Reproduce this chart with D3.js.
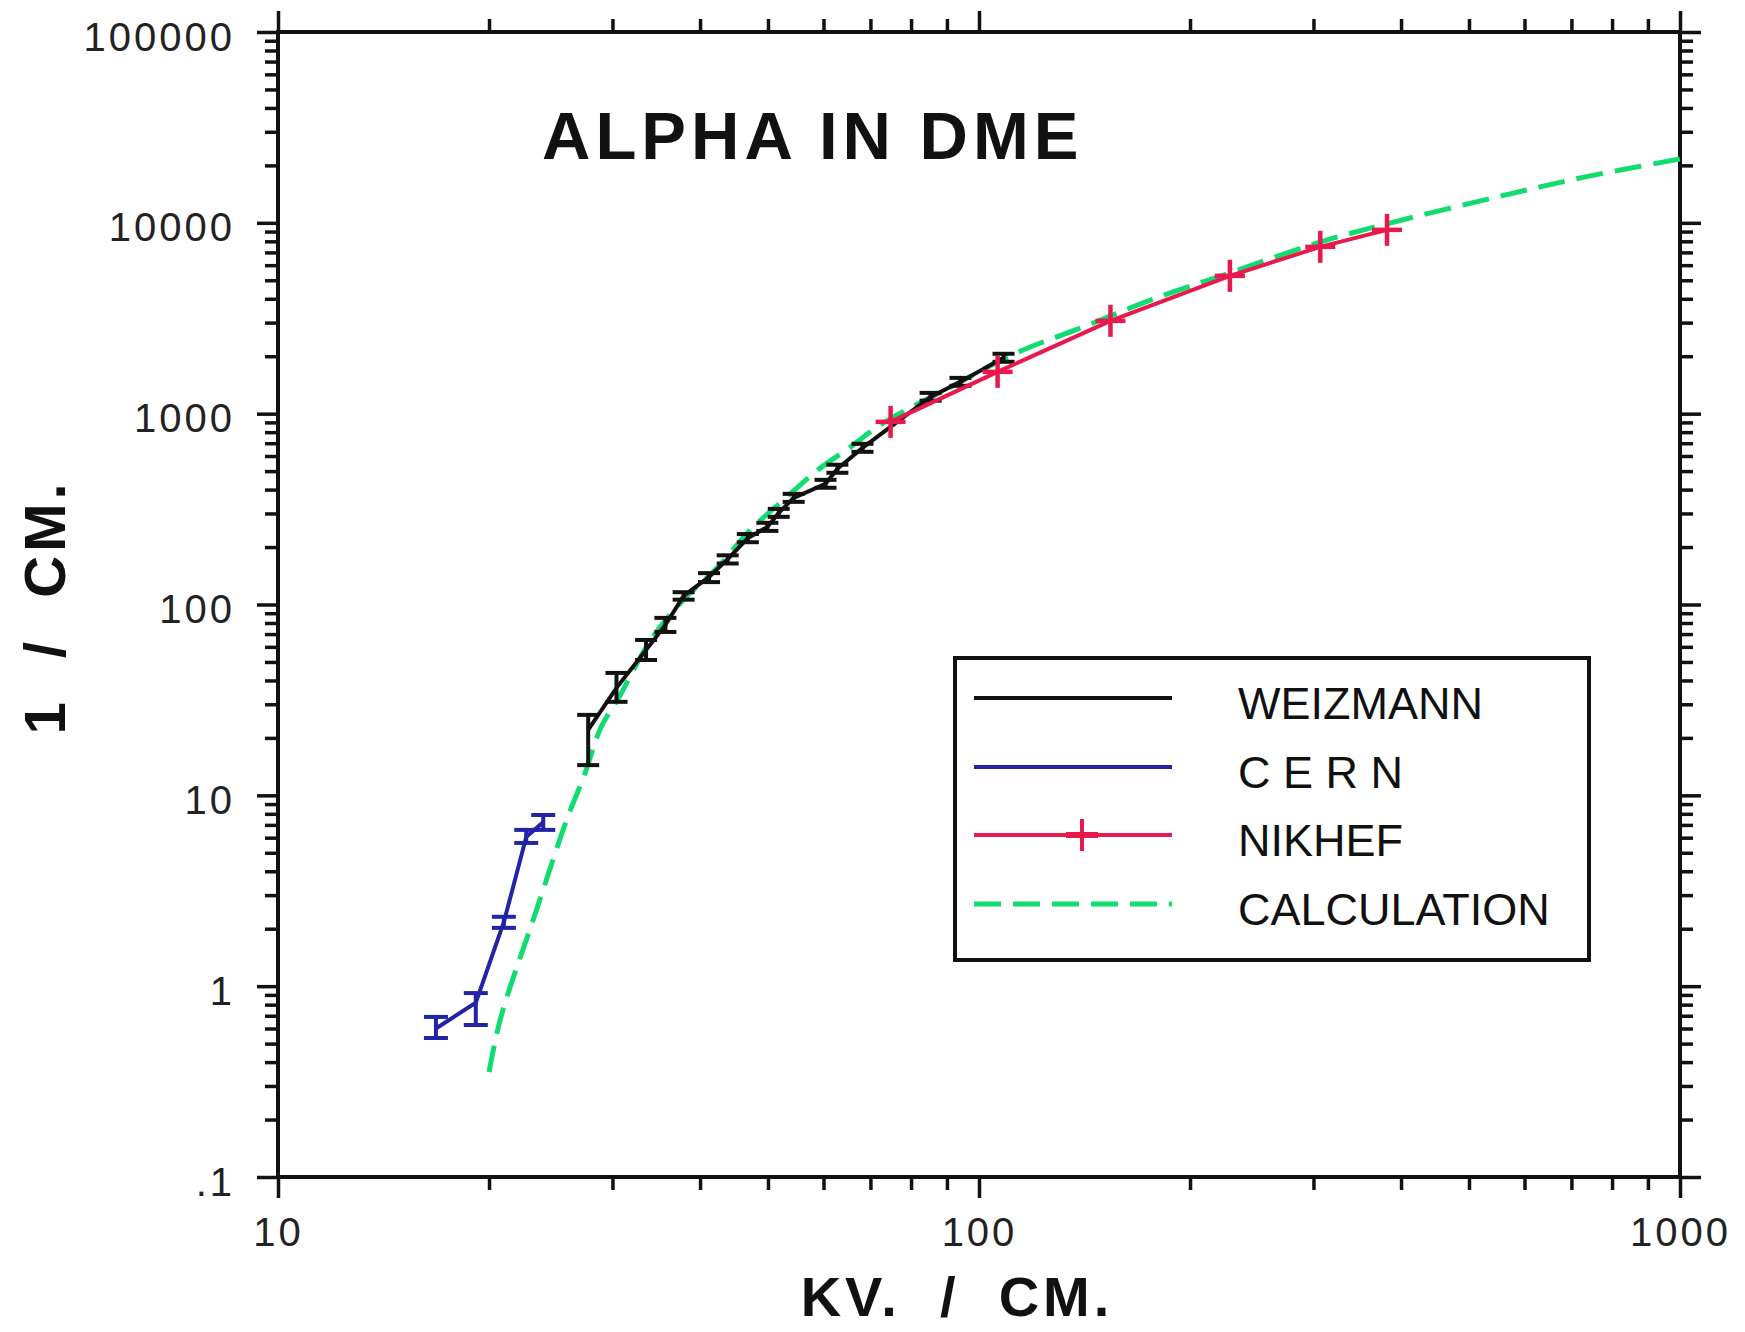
<!DOCTYPE html>
<html><head><meta charset="utf-8">
<script src="https://cdn.jsdelivr.net/npm/d3@7"></script>
<style>body{margin:0;background:#fff}svg{display:block}</style>
</head><body>
<svg id="chart" width="1745" height="1332"></svg>
<script>
// ---- data ----
const xMajor = [10, 100, 1000];
const xTickLabels = ["10", "100", "1000"];
const yMajor = [0.1, 1, 10, 100, 1000, 10000, 100000];
const yTickLabels = [".1", "1", "10", "100", "1000", "10000", "100000"];
const titleText = "ALPHA IN DME";
const xTitle = "KV.  /  CM.";
const yTitle = "1  /  CM.";
const legendNames = ["WEIZMANN", "C E R N", "NIKHEF", "CALCULATION"];

const weizX  = [27.7, 30.4, 33.5, 35.7, 37.9, 41.2, 43.8, 46.8, 49.9, 51.8, 54.4, 60.4, 62.8, 68.2, 85.3, 94.1, 108.4];
const weizY  = [22.0, 36.6, 57.8, 78.2, 111, 139.5, 173, 223, 255, 302, 362, 429, 514, 662, 1225, 1468, 1961];
const weizLo = [14.4, 30.9, 51.2, 71.8, 106, 131, 164, 212, 243, 288, 345, 409, 490, 631, 1170, 1400, 1870];
const weizHi = [26.4, 43.8, 65.2, 85.1, 116, 146, 181, 234, 268, 317, 380, 450, 540, 695, 1285, 1540, 2060];

const cernX  = [16.8, 19.15, 21.0, 22.6, 23.9];
const cernY  = [0.60, 0.82, 2.17, 6.05, 7.25];
const cernLo = [0.535, 0.626, 2.02, 5.63, 6.59];
const cernHi = [0.69, 0.92, 2.31, 6.59, 7.89];

const nikhefX = [74.8, 106.3, 154, 228, 306.8, 382];
const nikhefY = [906, 1656, 3064, 5275, 7486, 9188];

const calcX = [20, 20.8, 23.2, 25.9, 27.3, 28.9, 30.5, 34, 37.9, 42.4, 47.2, 52.6, 58.9, 65.6, 73.1, 91.1, 113, 141, 176, 228, 304, 377, 541, 727, 1000];
const calcY = [0.355, 0.69, 2.31, 7.7, 12.5, 22.8, 31.6, 65, 106, 157, 246, 353, 507, 670, 895, 1380, 2080, 2850, 3950, 5470, 7850, 9770, 13500, 17300, 21600];

// ---- colors ----
const cBlack = "#111", cBlue = "#2323a8", cRed = "#e8194c", cGreen = "#10dc70";

const svg = d3.select("#chart");
svg.append("rect").attr("width", 1745).attr("height", 1332).attr("fill", "#fff");

const L = 278, R = 1680, T = 32, B = 1177;
const x = d3.scaleLog().domain([10, 1000]).range([L, R]);
const y = d3.scaleLog().domain([0.1, 100000]).range([B, T]);

function minors(lo, hi) {
  const out = [];
  for (let d = lo; d < hi; d *= 10) for (let k = 2; k <= 9; k++) out.push(d * k);
  return out;
}
const xMinor = minors(10, 1000);
const yMinor = minors(0.1, 100000);

const tickFont = "'Liberation Sans', Arial, Helvetica, sans-serif";

function styleAxis(g) {
  g.select(".domain").remove();
  g.selectAll(".tick line").attr("stroke", "#111").attr("stroke-width", 3.5);
}
function makeAxis(i) {
  return i === 0 ? d3.axisBottom(x) : i === 1 ? d3.axisTop(x) : i === 2 ? d3.axisLeft(y) : d3.axisRight(y);
}

const axes = [
  {tr: `translate(0,${B})`, major: xMajor, minor: xMinor, labels: xTickLabels},
  {tr: `translate(0,${T})`, major: xMajor, minor: xMinor, labels: null},
  {tr: `translate(${L},0)`, major: yMajor, minor: yMinor, labels: yTickLabels},
  {tr: `translate(${R},0)`, major: yMajor, minor: yMinor, labels: null},
];
axes.forEach((a, i) => {
  const gm = svg.append("g").attr("transform", a.tr)
    .call(makeAxis(i).tickValues(a.minor).tickSize(13).tickFormat(""));
  styleAxis(gm);
  const gen = makeAxis(i).tickValues(a.major).tickSize(21).tickPadding(20)
    .tickFormat(a.labels ? ((d, j) => a.labels[j]) : "");
  const g = svg.append("g").attr("transform", a.tr).call(gen);
  styleAxis(g);
  g.selectAll("text").attr("font-family", tickFont).attr("font-size", 40)
    .attr("letter-spacing", 3).attr("fill", "#222");
  if (i === 2) g.selectAll("text").attr("dy", "0.45em").attr("x", -43);
  if (i === 0) g.selectAll("text").attr("dy", "0.71em");
});

// frame
svg.append("rect").attr("x", L).attr("y", T).attr("width", R - L).attr("height", B - T)
  .attr("fill", "none").attr("stroke", "#111").attr("stroke-width", 4);

// titles
svg.append("text").attr("x", 542).attr("y", 159).text(titleText)
  .attr("font-family", tickFont).attr("font-weight", "bold").attr("font-size", 67)
  .attr("letter-spacing", 5).attr("fill", "#111");
svg.append("text").attr("x", 957).attr("y", 1316).attr("text-anchor", "middle")
  .style("white-space", "pre").text(xTitle)
  .attr("font-family", tickFont).attr("font-weight", "bold").attr("font-size", 56)
  .attr("letter-spacing", 4).attr("fill", "#111");
svg.append("text").attr("transform", "translate(65,607) rotate(-90)").attr("text-anchor", "middle")
  .style("white-space", "pre").text(yTitle)
  .attr("font-family", tickFont).attr("font-weight", "bold").attr("font-size", 58)
  .attr("letter-spacing", 4).attr("fill", "#111");

// ---- series ----
const line = d3.line().x(d => x(d[0])).y(d => y(d[1]));
const plot = svg.append("g");

plot.append("path").datum(calcX.map((v, i) => [v, calcY[i]]))
  .attr("d", d3.line().x(d => x(d[0])).y(d => y(d[1])).curve(d3.curveCatmullRom.alpha(0.5)))
  .attr("fill", "none").attr("stroke", cGreen).attr("stroke-width", 5).attr("stroke-dasharray", "27,12");

function errSeries(xs, ys, lo, hi, color, cap) {
  const g = plot.append("g");
  g.append("path").datum(xs.map((v, i) => [v, ys[i]])).attr("d", line)
    .attr("fill", "none").attr("stroke", color).attr("stroke-width", 4);
  xs.forEach((v, i) => {
    const px = x(v);
    g.append("line").attr("x1", px).attr("x2", px).attr("y1", y(lo[i])).attr("y2", y(hi[i]))
      .attr("stroke", color).attr("stroke-width", 4);
    [lo[i], hi[i]].forEach(e => {
      g.append("line").attr("x1", px - cap).attr("x2", px + cap).attr("y1", y(e)).attr("y2", y(e))
        .attr("stroke", color).attr("stroke-width", 4);
    });
  });
}
errSeries(cernX, cernY, cernLo, cernHi, cBlue, 12);
errSeries(weizX, weizY, weizLo, weizHi, cBlack, 11);

const gn = plot.append("g");
gn.append("path").datum(nikhefX.map((v, i) => [v, nikhefY[i]])).attr("d", line)
  .attr("fill", "none").attr("stroke", cRed).attr("stroke-width", 4);
nikhefX.forEach((v, i) => {
  const px = x(v), py = y(nikhefY[i]);
  gn.append("line").attr("x1", px).attr("x2", px).attr("y1", py - 16).attr("y2", py + 16)
    .attr("stroke", cRed).attr("stroke-width", 4.5);
  gn.append("line").attr("x1", px - 15).attr("x2", px + 15).attr("y1", py).attr("y2", py)
    .attr("stroke", cRed).attr("stroke-width", 4.5);
});

// ---- legend ----
const lg = svg.append("g");
lg.append("rect").attr("x", 955).attr("y", 658).attr("width", 634).attr("height", 302)
  .attr("fill", "#fff").attr("stroke", "#111").attr("stroke-width", 4);
const legY = [698, 767, 835, 904];
const legColors = [cBlack, cBlue, cRed, cGreen];
legendNames.forEach((n, i) => {
  const ln = lg.append("line").attr("x1", 974).attr("x2", 1172).attr("y1", legY[i]).attr("y2", legY[i])
    .attr("stroke", legColors[i]).attr("stroke-width", i === 3 ? 5 : 4);
  if (i === 3) ln.attr("stroke-dasharray", "27,12");
  if (i === 2) {
    lg.append("line").attr("x1", 1082).attr("x2", 1082).attr("y1", legY[i] - 16).attr("y2", legY[i] + 16)
      .attr("stroke", cRed).attr("stroke-width", 4);
    lg.append("line").attr("x1", 1066).attr("x2", 1098).attr("y1", legY[i]).attr("y2", legY[i])
      .attr("stroke", cRed).attr("stroke-width", 6);
  }
  lg.append("text").attr("x", 1238).attr("y", legY[i] + 21).style("white-space", "pre").text(n)
    .attr("font-family", tickFont).attr("font-size", 45).attr("fill", "#111");
});
</script>
</body></html>
